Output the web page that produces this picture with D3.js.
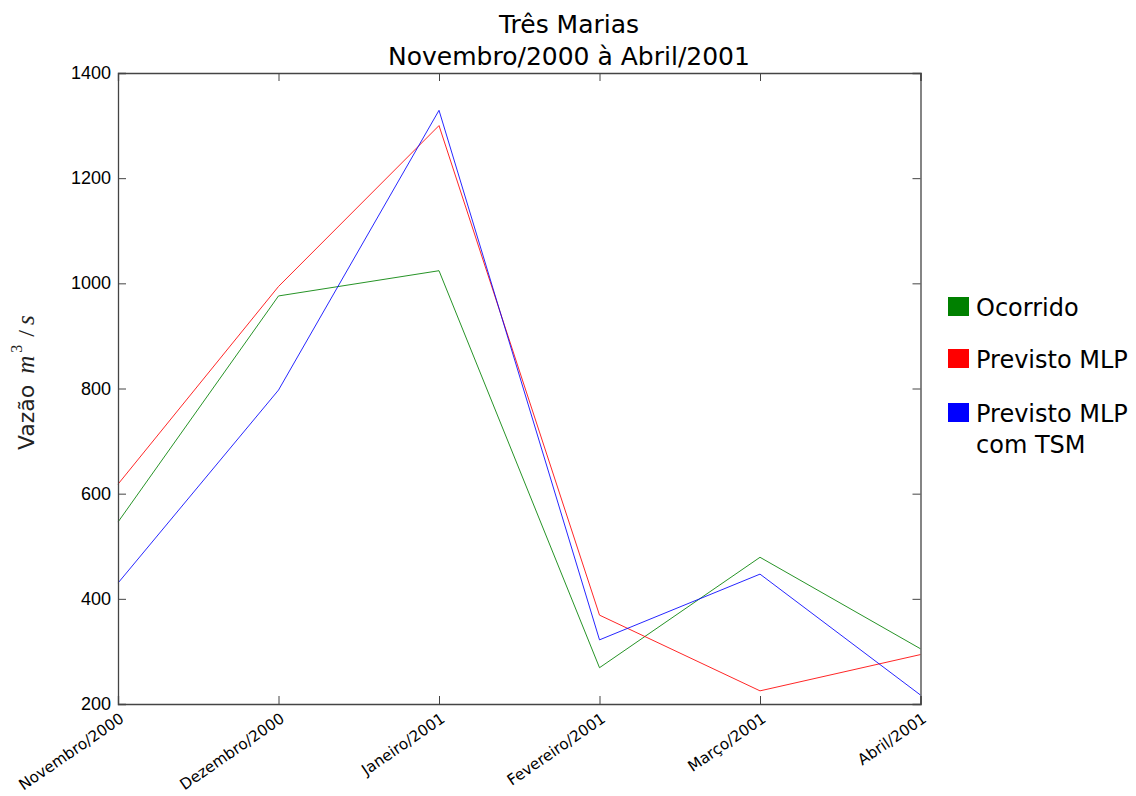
<!DOCTYPE html>
<html>
<head>
<meta charset="utf-8">
<script src="https://cdnjs.cloudflare.com/ajax/libs/d3/7.8.5/d3.min.js"></script>
<style>
  html, body { margin: 0; padding: 0; background: #fff; }
  svg { display: block; }
</style>
</head>
<body>
<svg id="chart" width="1136" height="796"></svg>
<script>
// Monthly flow at Três Marias, Nov/2000 – Apr/2001
const months = ["Novembro/2000", "Dezembro/2000", "Janeiro/2001", "Fevereiro/2001", "Março/2001", "Abril/2001"];
const ocorrido = [546, 976, 1024, 269, 479, 305];
const previstoMLP = [618, 994, 1300, 369, 225, 294];
const previstoMLPTSM = [430, 797, 1329, 322, 447, 217];
const yTicks = [200, 400, 600, 800, 1000, 1200, 1400];

const seriesNames = ["Ocorrido", "Previsto MLP", "Previsto MLP\ncom TSM"];
const seriesColors = ["#008000", "#ff0000", "#0000ff"];
const seriesValues = [ocorrido, previstoMLP, previstoMLPTSM];

const margin = { left: 118, top: 73, right: 920.5, bottom: 704 };
const svg = d3.select("#chart");

const x = d3.scalePoint().domain(months).range([margin.left, margin.right]);
const y = d3.scaleLinear().domain([200, 1400]).range([margin.bottom, margin.top]);

const frameColor = "#444";
const sansFont = "'DejaVu Sans', Verdana, sans-serif";
const tickFont = "'Liberation Sans', Arial, sans-serif";

// Title
const title = svg.append("text")
  .attr("text-anchor", "middle")
  .attr("font-family", sansFont)
  .attr("font-size", 25).attr("fill", "#000");
title.append("tspan").attr("x", 569).attr("y", 33).text("Três Marias");
title.append("tspan").attr("x", 569).attr("y", 65).text("Novembro/2000 à Abril/2001");

// Series lines
const line = d3.line().x((d, i) => x(months[i])).y(d => y(d));
seriesValues.forEach((vals, k) => {
  svg.append("path")
    .datum(vals)
    .attr("d", line)
    .attr("fill", "none")
    .attr("stroke", seriesColors[k])
    .attr("stroke-width", 1)
    .attr("stroke-opacity", 0.85);
});

// Frame with inward ticks on all four sides
const yAxisL = d3.axisRight(y).tickValues(yTicks).tickSize(8).tickFormat("");
const gL = svg.append("g").attr("transform", `translate(${margin.left},0)`).call(yAxisL);
const yAxisR = d3.axisLeft(y).tickValues(yTicks).tickSize(8).tickFormat("");
const gR = svg.append("g").attr("transform", `translate(${margin.right},0)`).call(yAxisR);
const xAxisB = d3.axisTop(x).tickSize(8).tickFormat("");
const gB = svg.append("g").attr("transform", `translate(0,${margin.bottom})`).call(xAxisB);
const xAxisT = d3.axisBottom(x).tickSize(8).tickFormat("");
const gT = svg.append("g").attr("transform", `translate(0,${margin.top})`).call(xAxisT);

[gL, gR, gB, gT].forEach(g => {
  g.select(".domain").attr("stroke", frameColor).attr("stroke-width", 1.3);
  g.selectAll(".tick line").attr("stroke", frameColor).attr("stroke-width", 1);
});

// Y tick labels
svg.append("g").selectAll("text").data(yTicks).join("text")
  .attr("x", margin.left - 7)
  .attr("y", d => y(d) + 6)
  .attr("text-anchor", "end")
  .attr("font-family", tickFont)
  .attr("font-size", 18)
  .attr("fill", "#000")
  .text(d => d);

// X tick labels, rotated
svg.append("g").selectAll("text").data(months).join("text")
  .attr("transform", d => `translate(${x(d) + 7},${margin.bottom + 17}) rotate(-34.5)`)
  .attr("text-anchor", "end")
  .attr("font-family", sansFont)
  .attr("font-size", 15.3)
  .attr("fill", "#000")
  .text(d => d);

// Y axis label: Vazão m³ / s
const serif = "'Liberation Serif', 'Times New Roman', serif";
const yl = svg.append("text")
  .attr("transform", "translate(34,450) rotate(-90)")
  .attr("text-anchor", "start")
  .attr("fill", "#222");
yl.append("tspan").attr("font-family", sansFont).attr("font-size", 22).text("Vazão");
yl.append("tspan").attr("font-family", serif).attr("font-style", "italic").attr("font-size", 25).attr("dx", 11).text("m");
yl.append("tspan").attr("font-family", serif).attr("font-size", 16).attr("dx", 3).attr("dy", -12).text("3");
yl.append("tspan").attr("font-family", serif).attr("font-size", 24).attr("dx", 8).attr("dy", 12).text("/");
yl.append("tspan").attr("font-family", serif).attr("font-style", "italic").attr("font-size", 25).attr("dx", 5).text("s");

// Legend
const legendTop = [297, 349, 403];
const legend = svg.append("g");
seriesNames.forEach((name, k) => {
  legend.append("rect")
    .attr("x", 948).attr("y", legendTop[k])
    .attr("width", 21).attr("height", 19)
    .attr("fill", seriesColors[k]);
  const t = legend.append("text")
    .attr("font-family", sansFont)
    .attr("font-size", 24)
    .attr("fill", "#000");
  name.split("\n").forEach((part, j) => {
    t.append("tspan").attr("x", 976).attr("y", legendTop[k] + 19 + j * 31).text(part);
  });
});
</script>
</body>
</html>
